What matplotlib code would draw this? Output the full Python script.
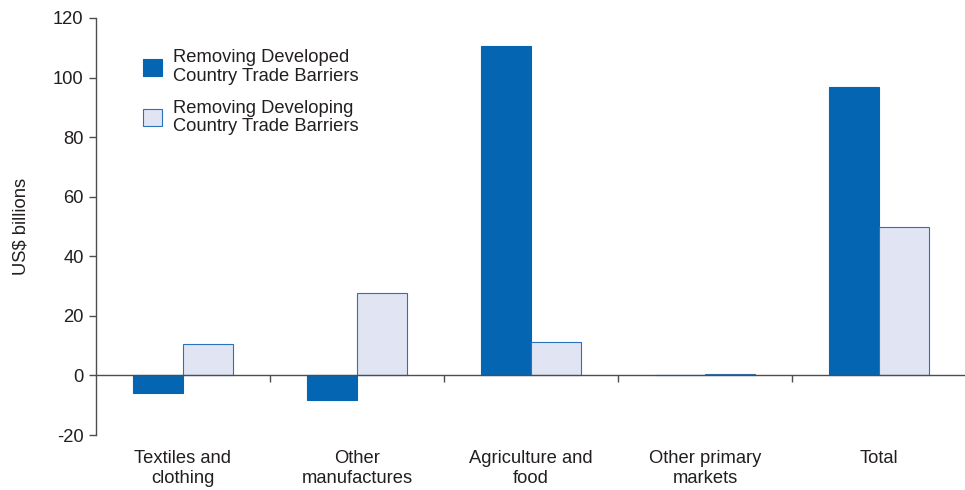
import numpy as np
import matplotlib
matplotlib.use("Agg")
import matplotlib.pyplot as plt

plt.rcParams["font.family"] = ["Liberation Sans", "DejaVu Sans"]
plt.rcParams["axes.unicode_minus"] = False

categories = ["Textiles and\nclothing", "Other\nmanufactures", "Agriculture and\nfood",
              "Other primary\nmarkets", "Total"]
developed = [-6.0, -8.3, 110.6, 0.0, 96.8]
developing = [10.4, 27.7, 11.2, 0.5, 49.7]
series_labels = ["Removing Developed\nCountry Trade Barriers",
                 "Removing Developing\nCountry Trade Barriers"]

DARK = "#0465B2"
LIGHT = "#E1E5F3"
EDGE = "#2873BA"
TEXT = "#231F20"
AXIS = "#4D4D4D"
FS = 13.2

fig = plt.figure(figsize=(9.65, 4.9), dpi=100)
ax = fig.add_axes([96 / 965, 1 - 435 / 490, 870 / 965, 417 / 490])

x = np.arange(len(categories))
w = 0.29
ax.bar(x - w / 2, developed, w, color=DARK, edgecolor=DARK, linewidth=0.8,
       label=series_labels[0], zorder=2)
ax.bar(x + w / 2, developing, w, color=LIGHT, edgecolor=EDGE, linewidth=0.8,
       label=series_labels[1], zorder=2)

ax.set_xlim(-0.5, len(categories) - 0.5)
ax.set_ylim(-20, 120)
ax.set_yticks(range(-20, 121, 20))

for side in ("top", "right"):
    ax.spines[side].set_visible(False)
ax.spines["left"].set_color(AXIS)
ax.spines["left"].set_linewidth(1.0)
ax.spines["bottom"].set_position(("data", 0))
ax.spines["bottom"].set_color(AXIS)
ax.spines["bottom"].set_linewidth(1.0)
ax.spines["bottom"].set_zorder(3)

ax.tick_params(axis="y", direction="out", length=5, width=1.0, color=AXIS,
               labelsize=FS, labelcolor=TEXT, pad=4)
ax.set_xticks(x)
ax.set_xticklabels(categories, linespacing=1.2)
ax.set_xticks(x[:-1] + 0.5, minor=True)
ax.tick_params(axis="x", which="major", length=0, pad=54, labelsize=FS,
               labelcolor=TEXT)
ax.tick_params(axis="x", which="minor", direction="out", length=5, width=1.0,
               color=AXIS)
for lbl in ax.get_xticklabels():
    lbl.set_verticalalignment("top")

ax.set_ylabel("US$ billions", fontsize=FS, color=TEXT, labelpad=17)

leg = ax.legend(loc="upper left", bbox_to_anchor=(0.054, 0.925), frameon=False,
                fontsize=FS, labelcolor=TEXT, handlelength=1.05, handleheight=1.05,
                handletextpad=0.6, labelspacing=0.8, borderaxespad=0, borderpad=0)
for t in leg.get_texts():
    t.set_linespacing(1.12)

fig.savefig("out.png", dpi=100)
